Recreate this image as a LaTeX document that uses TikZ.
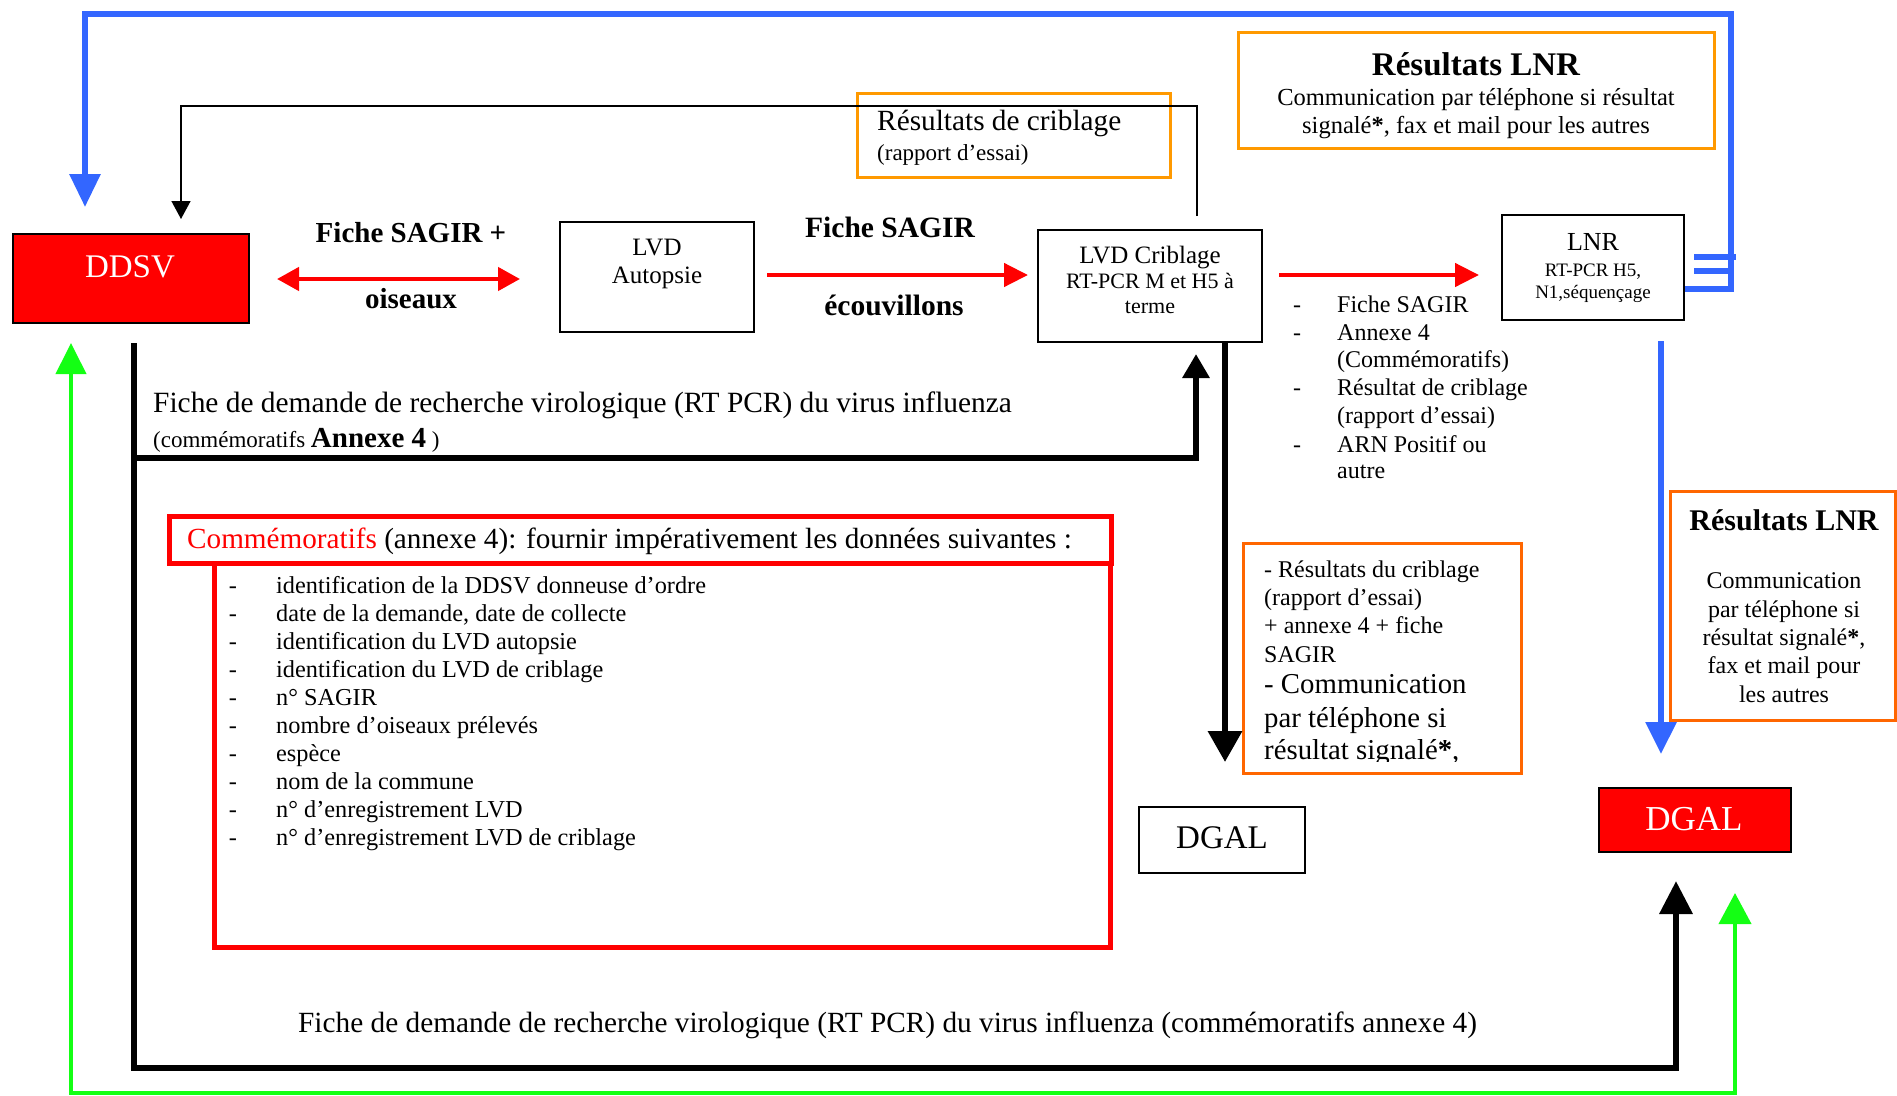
\documentclass[tikz,border=0pt]{standalone}
\usepackage{fontspec}
\setmainfont{Liberation Serif}
\usetikzlibrary{arrows.meta}
\definecolor{myblue}{RGB}{51,102,255}
\definecolor{mygreen}{RGB}{20,255,20}
\definecolor{orangeA}{RGB}{255,153,0}
\definecolor{orangeB}{RGB}{255,102,0}
\newcommand\myfs[1]{\fontsize{#1}{#1}\selectfont}
\begin{document}
\begin{tikzpicture}[x=1pt,y=-1pt,
  box/.style={draw=black, line width=2pt, rectangle, inner sep=0pt},
  obox/.style={draw=orangeA, line width=3pt, rectangle, inner sep=0pt},
  obox2/.style={draw=orangeB, line width=3pt, rectangle, inner sep=0pt},
  rbox/.style={draw=red, line width=5pt, rectangle, inner sep=0pt},
  t/.style={inner sep=0pt, anchor=base west},
  tc/.style={inner sep=0pt, anchor=base},
  redline/.style={draw=red, line width=4.5pt},
  blueline/.style={draw=myblue, line width=6pt},
  greenline/.style={draw=mygreen, line width=4pt},
  blackline/.style={draw=black, line width=6.5pt},
  thinline/.style={draw=black, line width=1.5pt}
]
\useasboundingbox (0,0) rectangle (1897,1095);

% ---------- boxes ----------
\node[box, fill=red, minimum width=236pt, minimum height=89pt] (ddsv) at (131,278.5) {};
\node[box, minimum width=194pt, minimum height=110pt] (autopsie) at (657,277) {};
\node[box, minimum width=224pt, minimum height=112pt] (criblage) at (1150,286) {};
\node[box, minimum width=182pt, minimum height=105pt] (lnr) at (1593,267.5) {};
\node[obox, minimum width=313pt, minimum height=84pt] (rescrib) at (1013.5,135) {};
\node[obox, minimum width=476pt, minimum height=116pt] (reslnrtop) at (1476,90) {};
\node[rbox, minimum width=896pt, minimum height=384pt] (commlist) at (662,755) {};
\node[rbox, minimum width=942pt, minimum height=47pt] (commhead) at (640,539.5) {};
\node[obox2, minimum width=278pt, minimum height=230pt] (orangebox) at (1382,658) {};
\node[box, minimum width=166pt, minimum height=66pt] (dgalA) at (1222,840) {};
\node[box, fill=red, minimum width=192pt, minimum height=64pt] (dgalB) at (1695,820) {};
\node[obox2, minimum width=225pt, minimum height=229pt] (reslnrright) at (1782.5,605.5) {};

% ---------- coordinates ----------
\coordinate (r1) at (0,279);
\coordinate (r2) at (0,275);
\coordinate (tR) at (1197,106);
\coordinate (tL) at (181,106);
\coordinate (uR1) at (1731,289);
\coordinate (uR2) at (1731,14);
\coordinate (uL) at (85,14);
\coordinate (s1a) at (1694,257);
\coordinate (s1b) at (1736,257);
\coordinate (s2a) at (1694,271);
\coordinate (s2b) at (1731,271);
\coordinate (bx) at (1661,0);
\coordinate (bD) at (134,458);
\coordinate (bC) at (1196,458);
\coordinate (bA) at (134,1068);
\coordinate (bB) at (1676,1068);
\coordinate (dx) at (1225,0);
\coordinate (gL) at (71,1093);
\coordinate (gR) at (1735,1093);

% ---------- connectors ----------
\draw[redline, {Triangle[length=22pt,width=23pt]}-{Triangle[length=22pt,width=23pt]}, shorten <=27pt, shorten >=39pt]
  (ddsv.east |- r1) -- (autopsie.west |- r1);
\draw[redline, -{Triangle[length=24pt,width=23pt]}, shorten <=12pt, shorten >=9pt]
  (autopsie.east |- r2) -- (criblage.west |- r2);
\draw[redline, -{Triangle[length=24pt,width=23pt]}, shorten <=16pt, shorten >=22pt]
  (criblage.east |- r2) -- (lnr.west |- r2);

\draw[thinline, -{Triangle[length=18pt,width=19pt]}, shorten <=13pt, shorten >=14pt]
  (criblage.north -| tR) -- (tR) -- (tL) -- (ddsv.north -| tL);

\draw[blueline, -{Triangle[length=33pt,width=30pt]}, shorten >=26pt]
  (lnr.east |- uR1) -- (uR1) -- (uR2) -- (uL) -- (ddsv.north -| uL);
\draw[blueline] (s1a) -- (s1b);
\draw[blueline] (s2a) -- (s2b);
\draw[blueline, -{Triangle[length=32pt,width=30pt]}, shorten <=20pt, shorten >=33pt]
  (lnr.south -| bx) -- (dgalB.north -| bx);

\draw[blackline, -{Triangle[length=24pt,width=26pt]}, shorten <=19pt, shorten >=11pt]
  (ddsv.south -| bD) -- (bD) -- (bC) -- (criblage.south -| bC);
\draw[blackline, -{Triangle[length=33pt,width=32pt]}, shorten <=19pt, shorten >=28pt]
  (ddsv.south -| bA) -- (bA) -- (bB) -- (dgalB.south -| bB);
\draw[blackline, -{Triangle[length=31pt,width=33pt]}, shorten >=44pt]
  (criblage.south -| dx) -- (dgalA.north -| dx);

\draw[greenline, {Triangle[length=31pt,width=30pt]}-{Triangle[length=31pt,width=32pt]}, shorten <=19pt, shorten >=40pt]
  (ddsv.south -| gL) -- (gL) -- (gR) -- (dgalB.south -| gR);

% ---------- texts ----------
\node[tc, text=white, font=\myfs{33}] (tddsv) at (130,277) {DDSV};
\node[tc, font=\bfseries\myfs{29}] (tfs1) at (411,242) {Fiche SAGIR +};
\node[tc, font=\bfseries\myfs{29}] (tois) at (411,308) {oiseaux};
\node[tc, font=\myfs{25}] (tlvd) at (657,255) {LVD};
\node[tc, font=\myfs{25}] (taut) at (657,283) {Autopsie};
\node[tc, font=\bfseries\myfs{29.5}] (tfs2) at (890,237) {Fiche SAGIR};
\node[tc, font=\bfseries\myfs{29.5}] (tecou) at (894,315) {écouvillons};
\node[tc, font=\myfs{25}] (tcr1) at (1150,263) {LVD Criblage};
\node[tc, font=\myfs{22}] (tcr2) at (1150,288) {RT-PCR M et H5 à};
\node[tc, font=\myfs{22}] (tcr3) at (1150,313) {terme};
\node[t, font=\myfs{29.3}] (trc1) at (877,130) {Résultats de criblage};
\node[t, font=\myfs{23}] (trc2) at (877,160) {(rapport d’essai)};
\node[tc, font=\bfseries\myfs{33}] (tlt1) at (1476,75) {Résultats LNR};
\node[tc, font=\myfs{24.5}] (tlt2) at (1476,105) {Communication par téléphone si résultat};
\node[tc, font=\myfs{24.5}] (tlt3) at (1476,133) {signalé\textbf{*}, fax et mail pour les autres};
\node[tc, font=\myfs{26}] (tlnr1) at (1593,250) {LNR};
\node[tc, font=\myfs{19}] (tlnr2) at (1593,276) {RT-PCR H5,};
\node[tc, font=\myfs{19}] (tlnr3) at (1593,298) {N1,séquençage};

% right list
\foreach \yy/\dd/\tx [count=\i] in {312/-/Fiche SAGIR, 340/-/Annexe 4, 367//(Commémoratifs), 395/-/Résultat de criblage, 423//(rapport d’essai), 452/-/ARN Positif ou, 478//autre}{
  \node[tc, font=\myfs{24}] (rld\i) at (1297,\yy) {\dd};
  \node[t, font=\myfs{24}] (rlt\i) at (1337,\yy) {\tx};
}

% orange box text (clipped)
\begin{scope}
\clip (1243,543) rectangle (1521,761);
\node[t, font=\myfs{24}] (ob1) at (1264,577) {- Résultats du criblage};
\node[t, font=\myfs{24}] (ob2) at (1264,605) {(rapport d’essai)};
\node[t, font=\myfs{24}] (ob3) at (1264,633) {+ annexe 4 + fiche};
\node[t, font=\myfs{24}] (ob4) at (1264,662) {SAGIR};
\node[t, font=\myfs{28.8}] (ob5) at (1264,693) {- Communication};
\node[t, font=\myfs{28.8}] (ob6) at (1264,727) {par téléphone si};
\node[t, font=\myfs{28.8}] (ob7) at (1264,759) {résultat signalé\textbf{*},};
\end{scope}

% right results LNR
\node[tc, font=\bfseries\myfs{30}] (rr0) at (1784,530) {Résultats LNR};
\node[tc, font=\myfs{24}] (rr1) at (1784,588) {Communication};
\node[tc, font=\myfs{24}] (rr2) at (1784,617) {par téléphone si};
\node[tc, font=\myfs{24}] (rr3) at (1784,645) {résultat signalé\textbf{*},};
\node[tc, font=\myfs{24}] (rr4) at (1784,673) {fax et mail pour};
\node[tc, font=\myfs{24}] (rr5) at (1784,702) {les autres};

% main texts
\node[t, font=\myfs{29.4}] (fd1) at (153,412) {Fiche de demande de recherche virologique (RT PCR) du virus influenza};
\node[t, font=\myfs{23}] (fd2) at (153,447) {(commémoratifs {\bfseries\myfs{29}Annexe 4} )};
\node[t, font=\myfs{29.2}] (hd) at (187,548) {{\color{red}Commémoratifs} (annexe 4): fournir impérativement les données suivantes :};

\foreach \tx [count=\i] in {identification de la DDSV donneuse d’ordre, {date de la demande, date de collecte}, identification du LVD autopsie, identification du LVD de criblage, n° SAGIR, nombre d’oiseaux prélevés, espèce, nom de la commune, n° d’enregistrement LVD, n° d’enregistrement LVD de criblage}{
  \node[tc, font=\myfs{24.3}] (cld\i) at (233,{593+28*(\i-1)}) {-};
  \node[t, font=\myfs{24.3}] (clt\i) at (276,{593+28*(\i-1)}) {\tx};
}

\node[tc, font=\myfs{33}] (tdgalA) at (1222,848) {DGAL};
\node[tc, text=white, font=\myfs{35}] (tdgalB) at (1694,830) {DGAL};
\node[t, font=\myfs{29.3}] (fd3) at (298,1032) {Fiche de demande de recherche virologique (RT PCR) du virus influenza (commémoratifs annexe 4)};
\end{tikzpicture}
\end{document}
